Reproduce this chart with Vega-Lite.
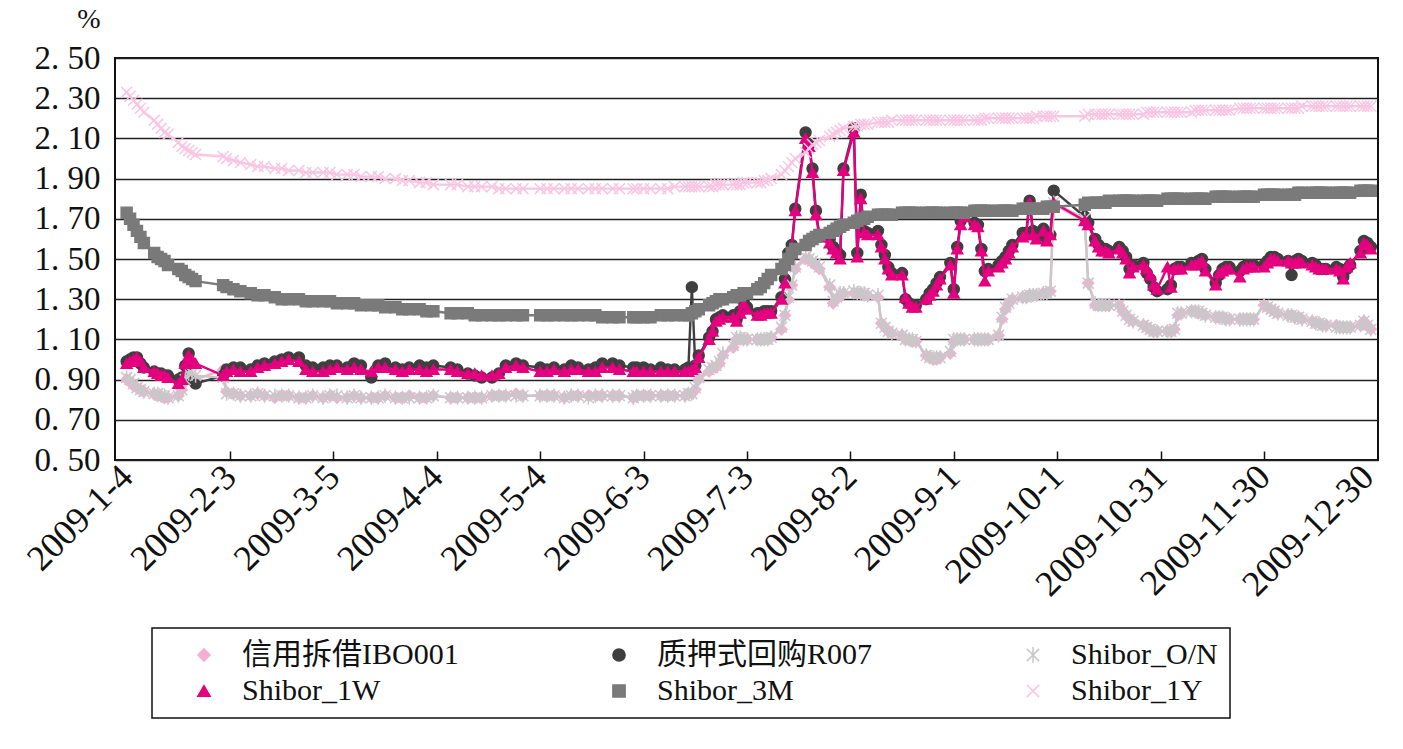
{
  "$schema": "https://vega.github.io/schema/vega-lite/v6.json",
  "background": "white",
  "autosize": {"type": "none"},
  "padding": {"left": 115, "top": 58, "right": 25, "bottom": 289},
  "config": {"view": {"stroke": "#111", "strokeWidth": 2}},
  "data": {"values": [
    {"d":"2009-01-04","a":0.90,"b":0.99,"c":0.91,"e":0.98,"f":1.73,"g":2.33},
    {"d":"2009-01-05","a":0.89,"b":1.00,"c":0.90,"e":0.99,"f":1.70,"g":2.31},
    {"d":"2009-01-06","a":0.87,"b":1.01,"c":0.88,"e":1.00,"f":1.67,"g":2.29},
    {"d":"2009-01-07","a":0.86,"b":1.01,"c":0.86,"e":1.01,"f":1.64,"g":2.27},
    {"d":"2009-01-08","a":0.85,"b":0.98,"c":0.85,"e":0.99,"f":1.61,"g":2.25},
    {"d":"2009-01-09","a":0.84,"b":0.96,"c":0.84,"e":0.96,"f":1.58,"g":2.23},
    {"d":"2009-01-12","a":0.83,"b":0.94,"c":0.83,"e":0.94,"f":1.53,"g":2.19},
    {"d":"2009-01-13","a":0.82,"b":0.93,"c":0.83,"e":0.93,"f":1.51,"g":2.17},
    {"d":"2009-01-14","a":0.82,"b":0.93,"c":0.82,"e":0.92,"f":1.50,"g":2.15},
    {"d":"2009-01-15","a":0.81,"b":0.92,"c":0.82,"e":0.92,"f":1.49,"g":2.13},
    {"d":"2009-01-16","a":0.81,"b":0.92,"c":0.81,"e":0.91,"f":1.47,"g":2.12},
    {"d":"2009-01-19","a":0.82,"b":0.90,"c":0.82,"e":0.88,"f":1.45,"g":2.08},
    {"d":"2009-01-20","a":0.85,"b":0.91,"c":0.85,"e":0.90,"f":1.44,"g":2.06},
    {"d":"2009-01-21","a":0.89,"b":0.97,"c":0.90,"e":0.98,"f":1.42,"g":2.05},
    {"d":"2009-01-22","a":0.92,"b":1.03,"c":0.93,"e":1.02,"f":1.41,"g":2.04},
    {"d":"2009-01-23","a":0.91,"b":0.90,"c":0.93,"e":1.00,"f":1.40,"g":2.03},
    {"d":"2009-01-24","a":0.90,"b":0.88,"c":0.92,"e":0.98,"f":1.39,"g":2.02},
    {"d":"2009-02-01","a":0.95,"b":0.92,"c":0.91,"e":0.92,"f":1.37,"g":2.01},
    {"d":"2009-02-02","a":0.84,"b":0.95,"c":0.83,"e":0.94,"f":1.36,"g":2.00},
    {"d":"2009-02-04","a":0.83,"b":0.96,"c":0.83,"e":0.95,"f":1.35,"g":1.99},
    {"d":"2009-02-06","a":0.82,"b":0.96,"c":0.82,"e":0.94,"f":1.34,"g":1.98},
    {"d":"2009-02-09","a":0.82,"b":0.95,"c":0.82,"e":0.94,"f":1.33,"g":1.97},
    {"d":"2009-02-11","a":0.83,"b":0.97,"c":0.83,"e":0.96,"f":1.32,"g":1.96},
    {"d":"2009-02-13","a":0.82,"b":0.98,"c":0.82,"e":0.97,"f":1.32,"g":1.96},
    {"d":"2009-02-16","a":0.81,"b":0.99,"c":0.82,"e":0.98,"f":1.31,"g":1.95},
    {"d":"2009-02-18","a":0.82,"b":1.00,"c":0.82,"e":0.99,"f":1.30,"g":1.95},
    {"d":"2009-02-20","a":0.82,"b":1.01,"c":0.82,"e":1.00,"f":1.30,"g":1.94},
    {"d":"2009-02-23","a":0.81,"b":1.01,"c":0.81,"e":0.99,"f":1.30,"g":1.94},
    {"d":"2009-02-25","a":0.81,"b":0.97,"c":0.81,"e":0.95,"f":1.29,"g":1.93},
    {"d":"2009-02-27","a":0.82,"b":0.96,"c":0.82,"e":0.94,"f":1.29,"g":1.93},
    {"d":"2009-03-02","a":0.81,"b":0.96,"c":0.81,"e":0.94,"f":1.29,"g":1.93},
    {"d":"2009-03-04","a":0.82,"b":0.97,"c":0.82,"e":0.95,"f":1.29,"g":1.93},
    {"d":"2009-03-06","a":0.81,"b":0.97,"c":0.82,"e":0.96,"f":1.28,"g":1.92},
    {"d":"2009-03-09","a":0.81,"b":0.96,"c":0.81,"e":0.95,"f":1.28,"g":1.92},
    {"d":"2009-03-11","a":0.82,"b":0.98,"c":0.82,"e":0.96,"f":1.28,"g":1.92},
    {"d":"2009-03-13","a":0.81,"b":0.97,"c":0.81,"e":0.95,"f":1.27,"g":1.91},
    {"d":"2009-03-16","a":0.81,"b":0.91,"c":0.81,"e":0.94,"f":1.27,"g":1.91},
    {"d":"2009-03-18","a":0.81,"b":0.97,"c":0.81,"e":0.96,"f":1.27,"g":1.91},
    {"d":"2009-03-20","a":0.82,"b":0.98,"c":0.82,"e":0.96,"f":1.26,"g":1.90},
    {"d":"2009-03-23","a":0.81,"b":0.96,"c":0.81,"e":0.95,"f":1.26,"g":1.90},
    {"d":"2009-03-25","a":0.81,"b":0.95,"c":0.81,"e":0.94,"f":1.25,"g":1.89},
    {"d":"2009-03-27","a":0.82,"b":0.96,"c":0.81,"e":0.95,"f":1.25,"g":1.89},
    {"d":"2009-03-30","a":0.81,"b":0.97,"c":0.81,"e":0.95,"f":1.25,"g":1.88},
    {"d":"2009-04-01","a":0.81,"b":0.96,"c":0.81,"e":0.94,"f":1.24,"g":1.88},
    {"d":"2009-04-03","a":0.82,"b":0.97,"c":0.82,"e":0.95,"f":1.24,"g":1.87},
    {"d":"2009-04-08","a":0.81,"b":0.96,"c":0.81,"e":0.95,"f":1.23,"g":1.87},
    {"d":"2009-04-10","a":0.81,"b":0.95,"c":0.81,"e":0.94,"f":1.23,"g":1.87},
    {"d":"2009-04-13","a":0.81,"b":0.93,"c":0.81,"e":0.93,"f":1.23,"g":1.86},
    {"d":"2009-04-15","a":0.81,"b":0.92,"c":0.81,"e":0.93,"f":1.22,"g":1.86},
    {"d":"2009-04-17","a":0.81,"b":0.91,"c":0.81,"e":0.92,"f":1.22,"g":1.86},
    {"d":"2009-04-20","a":0.82,"b":0.91,"c":0.82,"e":0.92,"f":1.22,"g":1.86},
    {"d":"2009-04-22","a":0.82,"b":0.93,"c":0.82,"e":0.93,"f":1.22,"g":1.85},
    {"d":"2009-04-24","a":0.82,"b":0.97,"c":0.82,"e":0.96,"f":1.22,"g":1.85},
    {"d":"2009-04-27","a":0.83,"b":0.98,"c":0.82,"e":0.97,"f":1.22,"g":1.85},
    {"d":"2009-04-29","a":0.82,"b":0.97,"c":0.82,"e":0.96,"f":1.22,"g":1.85},
    {"d":"2009-05-04","a":0.82,"b":0.96,"c":0.82,"e":0.94,"f":1.22,"g":1.85},
    {"d":"2009-05-06","a":0.82,"b":0.95,"c":0.82,"e":0.94,"f":1.22,"g":1.85},
    {"d":"2009-05-08","a":0.82,"b":0.96,"c":0.82,"e":0.95,"f":1.22,"g":1.85},
    {"d":"2009-05-11","a":0.81,"b":0.95,"c":0.81,"e":0.94,"f":1.22,"g":1.85},
    {"d":"2009-05-13","a":0.82,"b":0.97,"c":0.82,"e":0.95,"f":1.22,"g":1.85},
    {"d":"2009-05-15","a":0.82,"b":0.96,"c":0.82,"e":0.95,"f":1.22,"g":1.85},
    {"d":"2009-05-18","a":0.82,"b":0.95,"c":0.81,"e":0.94,"f":1.22,"g":1.85},
    {"d":"2009-05-20","a":0.82,"b":0.96,"c":0.82,"e":0.94,"f":1.22,"g":1.85},
    {"d":"2009-05-22","a":0.82,"b":0.98,"c":0.82,"e":0.96,"f":1.21,"g":1.85},
    {"d":"2009-05-25","a":0.82,"b":0.98,"c":0.82,"e":0.96,"f":1.21,"g":1.85},
    {"d":"2009-05-27","a":0.82,"b":0.97,"c":0.82,"e":0.95,"f":1.21,"g":1.85},
    {"d":"2009-05-31","a":0.81,"b":0.96,"c":0.81,"e":0.94,"f":1.21,"g":1.85},
    {"d":"2009-06-01","a":0.82,"b":0.96,"c":0.82,"e":0.94,"f":1.21,"g":1.85},
    {"d":"2009-06-03","a":0.82,"b":0.96,"c":0.82,"e":0.94,"f":1.21,"g":1.85},
    {"d":"2009-06-05","a":0.82,"b":0.95,"c":0.82,"e":0.94,"f":1.21,"g":1.85},
    {"d":"2009-06-08","a":0.82,"b":0.96,"c":0.82,"e":0.94,"f":1.22,"g":1.85},
    {"d":"2009-06-10","a":0.82,"b":0.95,"c":0.82,"e":0.94,"f":1.22,"g":1.85},
    {"d":"2009-06-12","a":0.82,"b":0.95,"c":0.82,"e":0.94,"f":1.22,"g":1.86},
    {"d":"2009-06-15","a":0.82,"b":0.95,"c":0.82,"e":0.94,"f":1.22,"g":1.86},
    {"d":"2009-06-16","a":0.83,"b":0.96,"c":0.83,"e":0.94,"f":1.22,"g":1.86},
    {"d":"2009-06-17","a":0.83,"b":1.36,"c":0.83,"e":0.95,"f":1.23,"g":1.86},
    {"d":"2009-06-18","a":0.85,"b":0.97,"c":0.86,"e":0.96,"f":1.24,"g":1.86},
    {"d":"2009-06-19","a":0.90,"b":1.02,"c":0.91,"e":1.01,"f":1.25,"g":1.86},
    {"d":"2009-06-22","a":0.94,"b":1.11,"c":0.95,"e":1.10,"f":1.27,"g":1.86},
    {"d":"2009-06-23","a":0.96,"b":1.14,"c":0.96,"e":1.14,"f":1.28,"g":1.86},
    {"d":"2009-06-24","a":0.96,"b":1.20,"c":0.97,"e":1.19,"f":1.29,"g":1.87},
    {"d":"2009-06-25","a":0.98,"b":1.21,"c":0.99,"e":1.20,"f":1.30,"g":1.87},
    {"d":"2009-06-26","a":1.02,"b":1.22,"c":1.03,"e":1.21,"f":1.30,"g":1.87},
    {"d":"2009-06-29","a":1.06,"b":1.22,"c":1.07,"e":1.21,"f":1.31,"g":1.87},
    {"d":"2009-06-30","a":1.10,"b":1.20,"c":1.11,"e":1.19,"f":1.32,"g":1.87},
    {"d":"2009-07-01","a":1.10,"b":1.24,"c":1.11,"e":1.23,"f":1.32,"g":1.87},
    {"d":"2009-07-02","a":1.10,"b":1.29,"c":1.10,"e":1.28,"f":1.33,"g":1.88},
    {"d":"2009-07-03","a":1.10,"b":1.26,"c":1.10,"e":1.25,"f":1.33,"g":1.88},
    {"d":"2009-07-06","a":1.10,"b":1.23,"c":1.10,"e":1.22,"f":1.35,"g":1.88},
    {"d":"2009-07-07","a":1.10,"b":1.23,"c":1.10,"e":1.22,"f":1.36,"g":1.88},
    {"d":"2009-07-08","a":1.10,"b":1.24,"c":1.10,"e":1.23,"f":1.38,"g":1.89},
    {"d":"2009-07-09","a":1.10,"b":1.24,"c":1.10,"e":1.23,"f":1.40,"g":1.89},
    {"d":"2009-07-10","a":1.11,"b":1.24,"c":1.11,"e":1.23,"f":1.42,"g":1.90},
    {"d":"2009-07-13","a":1.15,"b":1.31,"c":1.16,"e":1.30,"f":1.45,"g":1.92},
    {"d":"2009-07-14","a":1.22,"b":1.40,"c":1.22,"e":1.38,"f":1.47,"g":1.94},
    {"d":"2009-07-15","a":1.30,"b":1.53,"c":1.31,"e":1.52,"f":1.50,"g":1.96},
    {"d":"2009-07-16","a":1.37,"b":1.57,"c":1.37,"e":1.56,"f":1.53,"g":1.98},
    {"d":"2009-07-17","a":1.45,"b":1.75,"c":1.46,"e":1.74,"f":1.55,"g":2.00},
    {"d":"2009-07-20","a":1.50,"b":2.13,"c":1.51,"e":2.10,"f":1.57,"g":2.03},
    {"d":"2009-07-21","a":1.50,"b":2.07,"c":1.50,"e":2.06,"f":1.59,"g":2.05},
    {"d":"2009-07-22","a":1.48,"b":1.95,"c":1.49,"e":1.93,"f":1.60,"g":2.07},
    {"d":"2009-07-23","a":1.47,"b":1.74,"c":1.48,"e":1.72,"f":1.61,"g":2.08},
    {"d":"2009-07-24","a":1.45,"b":1.62,"c":1.46,"e":1.61,"f":1.62,"g":2.09},
    {"d":"2009-07-27","a":1.36,"b":1.60,"c":1.37,"e":1.58,"f":1.63,"g":2.11},
    {"d":"2009-07-28","a":1.28,"b":1.56,"c":1.29,"e":1.55,"f":1.64,"g":2.12},
    {"d":"2009-07-29","a":1.30,"b":1.54,"c":1.31,"e":1.53,"f":1.65,"g":2.13},
    {"d":"2009-07-30","a":1.32,"b":1.52,"c":1.33,"e":1.50,"f":1.66,"g":2.14},
    {"d":"2009-07-31","a":1.33,"b":1.95,"c":1.33,"e":1.94,"f":1.67,"g":2.15},
    {"d":"2009-08-03","a":1.33,"b":2.15,"c":1.34,"e":2.13,"f":1.68,"g":2.16},
    {"d":"2009-08-04","a":1.33,"b":1.53,"c":1.33,"e":1.51,"f":1.69,"g":2.16},
    {"d":"2009-08-05","a":1.33,"b":1.82,"c":1.33,"e":1.80,"f":1.70,"g":2.17},
    {"d":"2009-08-06","a":1.32,"b":1.64,"c":1.33,"e":1.63,"f":1.70,"g":2.17},
    {"d":"2009-08-07","a":1.32,"b":1.63,"c":1.32,"e":1.62,"f":1.71,"g":2.17},
    {"d":"2009-08-10","a":1.31,"b":1.64,"c":1.32,"e":1.62,"f":1.72,"g":2.18},
    {"d":"2009-08-11","a":1.18,"b":1.57,"c":1.18,"e":1.56,"f":1.72,"g":2.18},
    {"d":"2009-08-12","a":1.16,"b":1.52,"c":1.16,"e":1.50,"f":1.72,"g":2.18},
    {"d":"2009-08-13","a":1.14,"b":1.46,"c":1.14,"e":1.45,"f":1.72,"g":2.18},
    {"d":"2009-08-14","a":1.13,"b":1.43,"c":1.13,"e":1.42,"f":1.72,"g":2.19},
    {"d":"2009-08-17","a":1.12,"b":1.43,"c":1.12,"e":1.42,"f":1.73,"g":2.19},
    {"d":"2009-08-18","a":1.10,"b":1.30,"c":1.10,"e":1.31,"f":1.73,"g":2.19},
    {"d":"2009-08-19","a":1.10,"b":1.28,"c":1.10,"e":1.28,"f":1.73,"g":2.19},
    {"d":"2009-08-20","a":1.09,"b":1.27,"c":1.10,"e":1.26,"f":1.73,"g":2.19},
    {"d":"2009-08-21","a":1.09,"b":1.27,"c":1.09,"e":1.26,"f":1.73,"g":2.19},
    {"d":"2009-08-24","a":1.02,"b":1.30,"c":1.02,"e":1.30,"f":1.73,"g":2.19},
    {"d":"2009-08-25","a":1.01,"b":1.33,"c":1.01,"e":1.32,"f":1.73,"g":2.19},
    {"d":"2009-08-26","a":1.00,"b":1.35,"c":1.01,"e":1.34,"f":1.73,"g":2.19},
    {"d":"2009-08-27","a":1.00,"b":1.38,"c":1.01,"e":1.37,"f":1.73,"g":2.19},
    {"d":"2009-08-28","a":1.01,"b":1.41,"c":1.01,"e":1.40,"f":1.73,"g":2.19},
    {"d":"2009-08-31","a":1.03,"b":1.48,"c":1.04,"e":1.47,"f":1.73,"g":2.19},
    {"d":"2009-09-01","a":1.09,"b":1.35,"c":1.10,"e":1.33,"f":1.73,"g":2.19},
    {"d":"2009-09-02","a":1.10,"b":1.56,"c":1.10,"e":1.55,"f":1.73,"g":2.19},
    {"d":"2009-09-03","a":1.10,"b":1.69,"c":1.10,"e":1.67,"f":1.73,"g":2.19},
    {"d":"2009-09-04","a":1.10,"b":1.72,"c":1.10,"e":1.71,"f":1.73,"g":2.19},
    {"d":"2009-09-07","a":1.10,"b":1.68,"c":1.10,"e":1.67,"f":1.74,"g":2.19},
    {"d":"2009-09-08","a":1.10,"b":1.67,"c":1.10,"e":1.66,"f":1.74,"g":2.19},
    {"d":"2009-09-09","a":1.10,"b":1.55,"c":1.10,"e":1.54,"f":1.74,"g":2.19},
    {"d":"2009-09-10","a":1.10,"b":1.44,"c":1.10,"e":1.39,"f":1.74,"g":2.20},
    {"d":"2009-09-11","a":1.10,"b":1.45,"c":1.10,"e":1.44,"f":1.74,"g":2.20},
    {"d":"2009-09-14","a":1.12,"b":1.47,"c":1.12,"e":1.46,"f":1.74,"g":2.20},
    {"d":"2009-09-15","a":1.20,"b":1.49,"c":1.21,"e":1.48,"f":1.74,"g":2.20},
    {"d":"2009-09-16","a":1.25,"b":1.51,"c":1.26,"e":1.50,"f":1.74,"g":2.20},
    {"d":"2009-09-17","a":1.28,"b":1.54,"c":1.28,"e":1.53,"f":1.74,"g":2.20},
    {"d":"2009-09-18","a":1.30,"b":1.57,"c":1.30,"e":1.56,"f":1.74,"g":2.20},
    {"d":"2009-09-21","a":1.31,"b":1.63,"c":1.31,"e":1.61,"f":1.75,"g":2.20},
    {"d":"2009-09-22","a":1.31,"b":1.63,"c":1.31,"e":1.62,"f":1.75,"g":2.20},
    {"d":"2009-09-23","a":1.32,"b":1.79,"c":1.32,"e":1.78,"f":1.75,"g":2.20},
    {"d":"2009-09-24","a":1.32,"b":1.64,"c":1.32,"e":1.62,"f":1.75,"g":2.20},
    {"d":"2009-09-25","a":1.32,"b":1.61,"c":1.32,"e":1.60,"f":1.75,"g":2.21},
    {"d":"2009-09-27","a":1.33,"b":1.65,"c":1.33,"e":1.64,"f":1.75,"g":2.21},
    {"d":"2009-09-28","a":1.33,"b":1.60,"c":1.33,"e":1.59,"f":1.76,"g":2.21},
    {"d":"2009-09-29","a":1.34,"b":1.62,"c":1.34,"e":1.62,"f":1.76,"g":2.21},
    {"d":"2009-09-30","a":1.77,"b":1.84,"c":1.78,"e":1.78,"f":1.76,"g":2.21},
    {"d":"2009-10-09","a":1.69,"b":1.71,"c":1.70,"e":1.69,"f":1.77,"g":2.21},
    {"d":"2009-10-10","a":1.38,"b":1.68,"c":1.38,"e":1.67,"f":1.78,"g":2.22},
    {"d":"2009-10-12","a":1.27,"b":1.60,"c":1.28,"e":1.59,"f":1.78,"g":2.22},
    {"d":"2009-10-13","a":1.27,"b":1.57,"c":1.27,"e":1.56,"f":1.78,"g":2.22},
    {"d":"2009-10-14","a":1.27,"b":1.55,"c":1.27,"e":1.54,"f":1.78,"g":2.22},
    {"d":"2009-10-15","a":1.27,"b":1.55,"c":1.27,"e":1.54,"f":1.78,"g":2.22},
    {"d":"2009-10-16","a":1.27,"b":1.54,"c":1.27,"e":1.53,"f":1.79,"g":2.22},
    {"d":"2009-10-19","a":1.27,"b":1.56,"c":1.27,"e":1.55,"f":1.79,"g":2.22},
    {"d":"2009-10-20","a":1.24,"b":1.54,"c":1.24,"e":1.53,"f":1.79,"g":2.22},
    {"d":"2009-10-21","a":1.22,"b":1.51,"c":1.22,"e":1.50,"f":1.79,"g":2.22},
    {"d":"2009-10-22","a":1.20,"b":1.45,"c":1.20,"e":1.43,"f":1.79,"g":2.22},
    {"d":"2009-10-23","a":1.19,"b":1.47,"c":1.19,"e":1.46,"f":1.79,"g":2.22},
    {"d":"2009-10-26","a":1.17,"b":1.48,"c":1.17,"e":1.47,"f":1.79,"g":2.22},
    {"d":"2009-10-27","a":1.16,"b":1.43,"c":1.16,"e":1.45,"f":1.79,"g":2.23},
    {"d":"2009-10-28","a":1.15,"b":1.40,"c":1.15,"e":1.42,"f":1.79,"g":2.23},
    {"d":"2009-10-29","a":1.14,"b":1.36,"c":1.14,"e":1.37,"f":1.79,"g":2.23},
    {"d":"2009-10-30","a":1.14,"b":1.34,"c":1.14,"e":1.35,"f":1.79,"g":2.23},
    {"d":"2009-11-02","a":1.14,"b":1.35,"c":1.14,"e":1.46,"f":1.80,"g":2.23},
    {"d":"2009-11-03","a":1.14,"b":1.37,"c":1.14,"e":1.36,"f":1.80,"g":2.23},
    {"d":"2009-11-04","a":1.15,"b":1.45,"c":1.15,"e":1.45,"f":1.80,"g":2.23},
    {"d":"2009-11-05","a":1.22,"b":1.46,"c":1.23,"e":1.45,"f":1.80,"g":2.23},
    {"d":"2009-11-06","a":1.23,"b":1.46,"c":1.23,"e":1.45,"f":1.80,"g":2.23},
    {"d":"2009-11-09","a":1.24,"b":1.48,"c":1.24,"e":1.47,"f":1.80,"g":2.23},
    {"d":"2009-11-10","a":1.24,"b":1.48,"c":1.24,"e":1.47,"f":1.80,"g":2.24},
    {"d":"2009-11-11","a":1.23,"b":1.49,"c":1.24,"e":1.48,"f":1.80,"g":2.24},
    {"d":"2009-11-12","a":1.23,"b":1.50,"c":1.23,"e":1.49,"f":1.80,"g":2.24},
    {"d":"2009-11-13","a":1.22,"b":1.45,"c":1.22,"e":1.44,"f":1.80,"g":2.24},
    {"d":"2009-11-16","a":1.21,"b":1.38,"c":1.21,"e":1.37,"f":1.81,"g":2.24},
    {"d":"2009-11-17","a":1.21,"b":1.42,"c":1.21,"e":1.43,"f":1.81,"g":2.24},
    {"d":"2009-11-18","a":1.21,"b":1.45,"c":1.21,"e":1.44,"f":1.81,"g":2.24},
    {"d":"2009-11-19","a":1.20,"b":1.46,"c":1.20,"e":1.45,"f":1.81,"g":2.24},
    {"d":"2009-11-20","a":1.20,"b":1.46,"c":1.20,"e":1.45,"f":1.81,"g":2.24},
    {"d":"2009-11-23","a":1.20,"b":1.44,"c":1.20,"e":1.41,"f":1.81,"g":2.25},
    {"d":"2009-11-24","a":1.20,"b":1.46,"c":1.20,"e":1.45,"f":1.81,"g":2.25},
    {"d":"2009-11-25","a":1.20,"b":1.47,"c":1.20,"e":1.46,"f":1.81,"g":2.25},
    {"d":"2009-11-26","a":1.20,"b":1.47,"c":1.20,"e":1.46,"f":1.81,"g":2.25},
    {"d":"2009-11-27","a":1.20,"b":1.47,"c":1.20,"e":1.46,"f":1.81,"g":2.25},
    {"d":"2009-11-30","a":1.27,"b":1.47,"c":1.27,"e":1.46,"f":1.82,"g":2.25},
    {"d":"2009-12-01","a":1.26,"b":1.49,"c":1.26,"e":1.48,"f":1.82,"g":2.25},
    {"d":"2009-12-02","a":1.25,"b":1.51,"c":1.25,"e":1.50,"f":1.82,"g":2.25},
    {"d":"2009-12-03","a":1.24,"b":1.51,"c":1.24,"e":1.50,"f":1.82,"g":2.25},
    {"d":"2009-12-04","a":1.23,"b":1.50,"c":1.23,"e":1.49,"f":1.82,"g":2.25},
    {"d":"2009-12-07","a":1.22,"b":1.49,"c":1.22,"e":1.49,"f":1.82,"g":2.25},
    {"d":"2009-12-08","a":1.22,"b":1.42,"c":1.22,"e":1.48,"f":1.82,"g":2.25},
    {"d":"2009-12-09","a":1.21,"b":1.49,"c":1.21,"e":1.48,"f":1.82,"g":2.25},
    {"d":"2009-12-10","a":1.21,"b":1.50,"c":1.21,"e":1.49,"f":1.83,"g":2.25},
    {"d":"2009-12-11","a":1.20,"b":1.49,"c":1.20,"e":1.48,"f":1.83,"g":2.26},
    {"d":"2009-12-14","a":1.19,"b":1.48,"c":1.19,"e":1.47,"f":1.83,"g":2.26},
    {"d":"2009-12-15","a":1.18,"b":1.47,"c":1.18,"e":1.46,"f":1.83,"g":2.26},
    {"d":"2009-12-16","a":1.18,"b":1.45,"c":1.18,"e":1.45,"f":1.83,"g":2.26},
    {"d":"2009-12-17","a":1.17,"b":1.45,"c":1.17,"e":1.45,"f":1.83,"g":2.26},
    {"d":"2009-12-18","a":1.17,"b":1.45,"c":1.17,"e":1.45,"f":1.83,"g":2.26},
    {"d":"2009-12-21","a":1.17,"b":1.46,"c":1.16,"e":1.45,"f":1.83,"g":2.26},
    {"d":"2009-12-22","a":1.16,"b":1.45,"c":1.16,"e":1.44,"f":1.83,"g":2.26},
    {"d":"2009-12-23","a":1.16,"b":1.41,"c":1.16,"e":1.40,"f":1.83,"g":2.26},
    {"d":"2009-12-24","a":1.16,"b":1.45,"c":1.16,"e":1.46,"f":1.83,"g":2.26},
    {"d":"2009-12-25","a":1.16,"b":1.47,"c":1.16,"e":1.48,"f":1.83,"g":2.26},
    {"d":"2009-12-28","a":1.17,"b":1.54,"c":1.17,"e":1.53,"f":1.84,"g":2.26},
    {"d":"2009-12-29","a":1.19,"b":1.59,"c":1.19,"e":1.58,"f":1.84,"g":2.26},
    {"d":"2009-12-30","a":1.17,"b":1.58,"c":1.17,"e":1.57,"f":1.84,"g":2.26},
    {"d":"2009-12-31","a":1.15,"b":1.56,"c":1.15,"e":1.55,"f":1.84,"g":2.26}
  ]},
  "repeat": {"layer": ["a", "b", "c", "e", "f", "g"]},
  "spec": {
    "width": 1263,
    "height": 402,
    "encoding": {
      "x": {
        "field": "d",
        "type": "temporal",
        "scale": {
          "type": "utc",
          "domain": [
            {"year": 2008, "month": 12, "date": 31, "hours": 15, "utc": true},
            {"year": 2010, "month": 1, "date": 2, "hours": 2, "utc": true}
          ]
        },
        "axis": {
          "title": null,
          "grid": false,
          "domain": false,
          "values": [
            {"year": 2009, "month": 1, "date": 4, "utc": true},
            {"year": 2009, "month": 2, "date": 3, "utc": true},
            {"year": 2009, "month": 3, "date": 5, "utc": true},
            {"year": 2009, "month": 4, "date": 4, "utc": true},
            {"year": 2009, "month": 5, "date": 4, "utc": true},
            {"year": 2009, "month": 6, "date": 3, "utc": true},
            {"year": 2009, "month": 7, "date": 3, "utc": true},
            {"year": 2009, "month": 8, "date": 2, "utc": true},
            {"year": 2009, "month": 9, "date": 1, "utc": true},
            {"year": 2009, "month": 10, "date": 1, "utc": true},
            {"year": 2009, "month": 10, "date": 31, "utc": true},
            {"year": 2009, "month": 11, "date": 30, "utc": true},
            {"year": 2009, "month": 12, "date": 30, "utc": true}
          ],
          "labelExpr": "utcFormat(datum.value, '%Y-%-m-%-d')",
          "labelAngle": -45,
          "labelAlign": "right",
          "labelBaseline": "middle",
          "labelFont": "Liberation Serif",
          "labelFontSize": 36,
          "labelColor": "#111",
          "labelPadding": 20,
          "labelOverlap": false,
          "labelFlush": false,
          "labelBound": false,
          "tickSize": -9,
          "tickWidth": 1.5,
          "tickColor": "#111",
          "tickOpacity": {"condition": {"test": "datum.value < utc(2009,0,10) || datum.value > utc(2009,11,25)", "value": 0}, "value": 1}
        }
      }
    },
    "layer": [
      {
        "mark": {"type": "line", "strokeWidth": 2.4},
        "encoding": {
          "y": {
            "field": {"repeat": "layer"},
            "type": "quantitative",
            "scale": {"domain": [0.5, 2.5], "nice": false, "zero": false},
            "axis": {
              "values": [0.5, 0.7, 0.9, 1.1, 1.3, 1.5, 1.7, 1.9, 2.1, 2.3, 2.5],
              "labelExpr": "replace(format(datum.value, '.2f'), '.', '. ')",
              "grid": true, "gridColor": "#222", "gridWidth": 1.6,
              "ticks": false, "domain": false,
              "labelFont": "Liberation Serif", "labelFontSize": 33, "labelColor": "#111", "labelPadding": 15,
              "title": "%", "titleFont": "Liberation Serif", "titleFontSize": 28, "titleFontWeight": "normal", "titleColor": "#111",
              "titleAngle": 0, "titleAlign": "right", "titleBaseline": "middle", "titleX": -15, "titleY": -39
            }
          },
          "color": {
            "datum": {"repeat": "layer"},
            "type": "nominal",
            "scale": {
              "domain": ["a", "b", "c", "e", "f", "g"],
              "range": ["#f4b0d4", "#3f3f3f", "#c8c8c8", "#e4007f", "#7a7a7a", "#f8c6e2"]
            },
            "legend": {
              "title": null, "orient": "none", "legendX": 37, "legendY": 570,
              "direction": "horizontal", "columns": 3, "columnPadding": 120, "rowPadding": 6, "padding": 12,
              "strokeColor": "#111", "fillColor": "white", "symbolSize": 150, "symbolOffset": 25,
              "labelFont": "Liberation Serif, Noto Sans CJK SC", "labelFontSize": 30, "labelColor": "#111",
              "labelLimit": 500, "labelOffset": 23,
              "labelExpr": "datum.value === 'a' ? '信用拆借IBO001' : datum.value === 'b' ? '质押式回购R007' : datum.value === 'c' ? 'Shibor_O/N' : datum.value === 'e' ? 'Shibor_1W' : datum.value === 'f' ? 'Shibor_3M' : 'Shibor_1Y'",
              "encode": {
                "legend": {"update": {"strokeWidth": {"value": 1.5}}},
                "symbols": {
                  "update": {
                    "size": {"value": 150},
                    "strokeWidth": {"value": 1.5},
                    "opacity": {"value": 1},
                    "fillOpacity": {"value": 1},
                    "strokeOpacity": {"value": 1}
                  }
                }
              }
            }
          }
        }
      },
      {
        "mark": {"type": "point", "filled": true, "opacity": 1, "size": 120, "strokeWidth": 1.5},
        "encoding": {
          "y": {
            "field": {"repeat": "layer"},
            "type": "quantitative",
            "scale": {"domain": [0.5, 2.5], "nice": false, "zero": false},
            "axis": {
              "values": [0.5, 0.7, 0.9, 1.1, 1.3, 1.5, 1.7, 1.9, 2.1, 2.3, 2.5],
              "labelExpr": "replace(format(datum.value, '.2f'), '.', '. ')",
              "grid": true, "gridColor": "#222", "gridWidth": 1.6,
              "ticks": false, "domain": false,
              "labelFont": "Liberation Serif", "labelFontSize": 33, "labelColor": "#111", "labelPadding": 15,
              "title": "%", "titleFont": "Liberation Serif", "titleFontSize": 28, "titleFontWeight": "normal", "titleColor": "#111",
              "titleAngle": 0, "titleAlign": "right", "titleBaseline": "middle", "titleX": -15, "titleY": -39
            }
          },
          "color": {
            "datum": {"repeat": "layer"},
            "type": "nominal",
            "scale": {
              "domain": ["a", "b", "c", "e", "f", "g"],
              "range": ["#f4b0d4", "#3f3f3f", "#c8c8c8", "#e4007f", "#7a7a7a", "#f8c6e2"]
            },
            "legend": {
              "title": null, "orient": "none", "legendX": 37, "legendY": 570,
              "direction": "horizontal", "columns": 3, "columnPadding": 120, "rowPadding": 6, "padding": 12,
              "strokeColor": "#111", "fillColor": "white", "symbolSize": 150, "symbolOffset": 25,
              "labelFont": "Liberation Serif, Noto Sans CJK SC", "labelFontSize": 30, "labelColor": "#111",
              "labelLimit": 500, "labelOffset": 23,
              "labelExpr": "datum.value === 'a' ? '信用拆借IBO001' : datum.value === 'b' ? '质押式回购R007' : datum.value === 'c' ? 'Shibor_O/N' : datum.value === 'e' ? 'Shibor_1W' : datum.value === 'f' ? 'Shibor_3M' : 'Shibor_1Y'",
              "encode": {
                "legend": {"update": {"strokeWidth": {"value": 1.5}}},
                "symbols": {
                  "update": {
                    "size": {"value": 150},
                    "strokeWidth": {"value": 1.5},
                    "opacity": {"value": 1},
                    "fillOpacity": {"value": 1},
                    "strokeOpacity": {"value": 1}
                  }
                }
              }
            }
          },
          "shape": {
            "datum": {"repeat": "layer"},
            "type": "nominal",
            "scale": {
              "domain": ["a", "b", "c", "e", "f", "g"],
              "range": ["diamond", "circle", "M-1,-1L1,1M-1,1L1,-1M0,-1.3V1.3", "triangle-up", "square", "M-1,-1L1,1M-1,1L1,-1"]
            },
            "legend": null
          },
          "stroke": {
            "datum": {"repeat": "layer"},
            "type": "nominal",
            "scale": {
              "domain": ["a", "b", "c", "e", "f", "g"],
              "range": ["#f4b0d4", "#3f3f3f", "#c8c8c8", "#e4007f", "#7a7a7a", "#f8c6e2"]
            },
            "legend": null
          }
        }
      }
    ]
  }
}
